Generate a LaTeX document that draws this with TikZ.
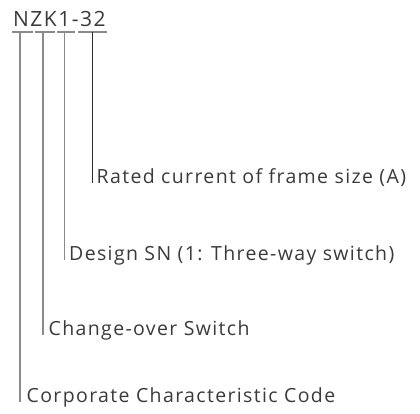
\documentclass[tikz,border=0pt]{standalone}
\usepackage{fontspec}
\setmainfont{Open Sans}[LetterSpace=7]
\definecolor{txt}{HTML}{3A3A3A}
\definecolor{gline}{HTML}{8A8A8A}
\definecolor{dline}{HTML}{2A2A2A}
\begin{document}
\begin{tikzpicture}[x=1pt,y=1pt,
  lab/.style={anchor=base west,inner sep=0pt,text=txt,font=\fontsize{19.5}{22}\selectfont},
  ttl/.style={anchor=base west,inner sep=0pt,text=txt,font=\fontsize{21}{24}\selectfont},
  gray line/.style={draw=gline,line width=1.4pt},
  dark line/.style={draw=dline,line width=0.9pt}]
\useasboundingbox (0,0) rectangle (420,-414);
\node[ttl] (title) at (13,-27) {NZK1-32};
% T tops
\coordinate (t1) at (20,-32);
\coordinate (t2) at (43,-32);
\coordinate (t3) at (64.5,-32);
\coordinate (t4) at (92.5,-32);
\draw[gray line] (12,-32) -- (33,-32);
\draw[gray line] (35,-32) -- (55,-32);
\draw[gray line] (57,-32) -- (75,-32);
\draw[gray line] (78,-32) -- (107,-32);
% labels
\node[lab] (l4) at (96.5,-183) {Rated current of frame size (A)};
\node[lab] (l3) at (69,-260) {Design SN (1: Three-way switch)};
\node[lab] (l2) at (48.5,-335) {Change-over Switch};
\node[lab] (l1) at (26.5,-402) {Corporate Characteristic Code};
% connectors
\draw[dark line] (t4) -- (t4 |- l4.base);
\draw[gray line] (t3) -- (t3 |- l3.base);
\draw[gray line] (t2) -- (t2 |- l2.base);
\draw[gray line] (t1) -- (t1 |- l1.base);
\end{tikzpicture}
\end{document}
